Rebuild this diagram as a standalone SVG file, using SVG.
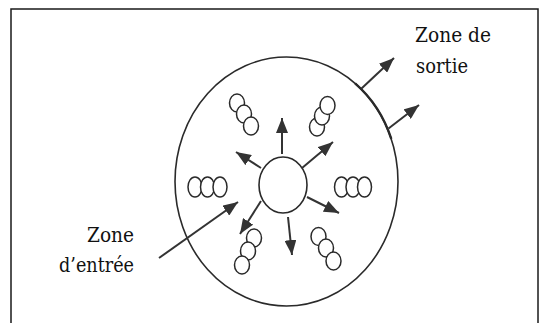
<svg xmlns="http://www.w3.org/2000/svg" width="539" height="323" viewBox="0 0 539 323">
<style>
.frame{fill:none;stroke:#1a1a1a;stroke-width:1.5}
.ring{fill:none;stroke:#2a2a2a;stroke-width:1.6}
.thick{fill:none;stroke:#2a2a2a;stroke-width:2.4}
.ball{fill:#fff;stroke:#2a2a2a;stroke-width:1.5}
.arr{fill:none;stroke:#333;stroke-width:2;marker-end:url(#head)}
text{font-family:"DejaVu Serif","Liberation Serif",serif;font-size:20px;fill:#111}
</style>
<defs>
<marker id="head" markerUnits="userSpaceOnUse" markerWidth="16" markerHeight="12" refX="15" refY="6" orient="auto">
<path d="M0,0 L15,6 L0,12 Z" fill="#333"/>
</marker>
</defs>
<rect class="frame" x="11" y="9" width="527" height="320"/>
<g id="outer-zone">
<ellipse class="ring" cx="286.5" cy="181.5" rx="111.5" ry="124.5"/>
<path class="thick" d="M355.1 83.4 A111.5 124.5 0 0 1 391.3 138.9"/>
</g>
<g id="center">
<ellipse class="ring" cx="283" cy="185" rx="24" ry="28"/>
</g>
<g id="cluster-top-left">
<ellipse class="ball" cx="237" cy="103" rx="7.5" ry="9"/>
<ellipse class="ball" cx="244" cy="114" rx="7.5" ry="9"/>
<ellipse class="ball" cx="251" cy="126" rx="7.5" ry="9"/>
</g>
<g id="cluster-top-right">
<ellipse class="ball" cx="317" cy="127" rx="7.5" ry="9"/>
<ellipse class="ball" cx="322" cy="116" rx="7.5" ry="9"/>
<ellipse class="ball" cx="327.5" cy="105.5" rx="7.5" ry="9"/>
</g>
<g id="cluster-left">
<ellipse class="ball" cx="195" cy="187" rx="7" ry="10"/>
<ellipse class="ball" cx="207.5" cy="187" rx="7" ry="10"/>
<ellipse class="ball" cx="220" cy="187" rx="7" ry="10"/>
</g>
<g id="cluster-right">
<ellipse class="ball" cx="341.5" cy="187" rx="7" ry="10"/>
<ellipse class="ball" cx="353" cy="187" rx="7" ry="10"/>
<ellipse class="ball" cx="364.5" cy="187" rx="7" ry="10"/>
</g>
<g id="cluster-bottom-left">
<ellipse class="ball" cx="254" cy="238" rx="7.5" ry="9"/>
<ellipse class="ball" cx="248" cy="251" rx="7.5" ry="9"/>
<ellipse class="ball" cx="242" cy="265" rx="7.5" ry="9"/>
</g>
<g id="cluster-bottom-right">
<ellipse class="ball" cx="318.5" cy="236.5" rx="7.5" ry="9"/>
<ellipse class="ball" cx="326" cy="248" rx="7.5" ry="9"/>
<ellipse class="ball" cx="333.5" cy="261" rx="7.5" ry="9"/>
</g>
<g id="connectors">
<line class="arr" x1="282" y1="154" x2="282" y2="118"/>
<line class="arr" x1="261" y1="168" x2="236" y2="152"/>
<line class="arr" x1="302" y1="168" x2="333" y2="142"/>
<line class="arr" x1="307" y1="197" x2="339" y2="213"/>
<line class="arr" x1="261" y1="201" x2="240" y2="234"/>
<line class="arr" x1="288" y1="217" x2="292" y2="255"/>
<line class="arr" x1="159" y1="258" x2="238" y2="202"/>
<line class="arr" x1="361.5" y1="88.5" x2="394" y2="58"/>
<line class="arr" x1="388.5" y1="128.5" x2="419" y2="105"/>
</g>
<g id="label-sortie">
<text x="415" y="42" textLength="76" lengthAdjust="spacingAndGlyphs">Zone de</text>
<text x="416" y="73" textLength="52" lengthAdjust="spacingAndGlyphs">sortie</text>
</g>
<g id="label-entree">
<text x="87" y="242" textLength="47" lengthAdjust="spacingAndGlyphs">Zone</text>
<text x="59" y="272" textLength="75" lengthAdjust="spacingAndGlyphs">d’entrée</text>
</g>
</svg>
